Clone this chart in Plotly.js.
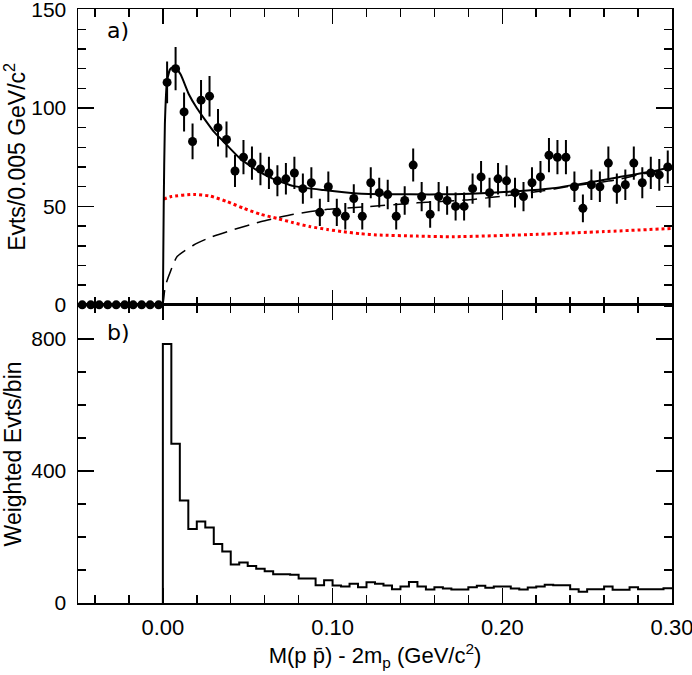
<!DOCTYPE html>
<html>
<head>
<meta charset="utf-8">
<script src="https://cdn.plot.ly/plotly-3.0.1.min.js"></script>
<style>
  body { margin: 0; background: #ffffff; }
  #grafico { width: 692px; height: 675px; }
</style>
</head>
<body>
<div id="grafico"></div>
<script>
// --- 1. DATOS ---
const anchoBin = 0.005;

// panel a) eventos por bin, 10 bins vacios por debajo del umbral y 60 por encima
const eventosVacios = [0, 0, 0, 0, 0, 0, 0, 0, 0, 0];
const eventos = [
  113, 120, 98, 83, 104, 106, 90, 84, 68, 75,
  72, 69, 67, 63, 64, 67, 59, 62, 47, 60,
  47, 45, 54, 45, 62, 57, 56, 45, 53, 71,
  55, 46, 55, 53, 50, 50, 59, 65, 57, 64,
  63, 57, 55, 62, 65, 76, 75, 75, 60, 49,
  61, 60, 72, 59, 61, 72, 62, 67, 66, 70
];
const errores = [
  10.6, 11.0, 9.9, 9.1, 10.2, 10.3, 9.5, 9.2, 8.2, 8.7,
  8.5, 8.3, 8.2, 7.9, 8.0, 8.2, 7.7, 7.9, 6.9, 7.7,
  6.9, 6.7, 7.3, 6.7, 7.9, 7.5, 7.5, 6.7, 7.3, 8.4,
  7.4, 6.8, 7.4, 7.3, 7.1, 7.1, 7.7, 8.1, 7.5, 8.0,
  7.9, 7.5, 7.4, 7.9, 8.1, 8.7, 8.7, 8.7, 7.7, 7.0,
  7.8, 7.7, 8.5, 7.7, 7.8, 8.5, 7.9, 8.2, 8.1, 8.4
];

// curva del ajuste total (solida)
const ajusteX = [0, 0.0005, 0.0012, 0.0025, 0.0045, 0.007, 0.0105, 0.0153, 0.02, 0.0251,
  0.03, 0.035, 0.0447, 0.0546, 0.0644, 0.0772, 0.0948, 0.1145, 0.1341, 0.157,
  0.1714, 0.191, 0.2107, 0.2284, 0.248, 0.2677, 0.2873, 0.30];
const ajusteY = [0, 50, 92, 114, 120, 121, 117, 107, 100, 93.7,
  88, 83.6, 75, 68.8, 64.2, 60.3, 58.3, 56.6, 56.2, 56.1,
  56.2, 56.8, 57.8, 59.1, 61.7, 64.7, 67.6, 70.1];

// fondo de espacio fasico (discontinua)
const fondoX = [0, 0.0005, 0.001, 0.002, 0.0045, 0.0084, 0.0182, 0.028, 0.038, 0.0575,
  0.077, 0.097, 0.12, 0.15, 0.178, 0.194, 0.224, 0.238, 0.266, 0.284, 0.30];
const fondoY = [0, 3, 7, 11, 17, 24.5, 30.4, 34.3, 37.2, 42.2,
  46, 48.5, 49.8, 51.8, 53.2, 54.6, 57.9, 60, 63.3, 66.7, 69];

// curva punteada roja
const rojaX = [0.0005, 0.005, 0.0182, 0.028, 0.0379, 0.0477, 0.0575, 0.0673, 0.077, 0.0869,
  0.0968, 0.1066, 0.1164, 0.126, 0.15, 0.1714, 0.2205, 0.26, 0.30];
const rojaY = [53.7, 55, 56.1, 55.2, 52.4, 49, 46, 43.9, 41.7, 39.7,
  38.3, 37.1, 36.1, 35.5, 34.9, 34.6, 35.8, 37.2, 38.8];

// panel b) eventos pesados por bin (60 bins desde 0)
const pesados = [
  785, 483, 311, 224, 247, 229, 179, 156, 117, 123,
  112, 104, 96, 87, 87, 86, 74, 74, 54, 69,
  53, 50, 58, 48, 63, 58, 53, 42, 50, 64,
  50, 41, 48, 44, 41, 41, 48, 52, 46, 50,
  50, 44, 41, 47, 50, 55, 54, 54, 42, 34,
  42, 42, 50, 40, 40, 48, 42, 42, 42, 45
];

// --- 2. CONSTRUCCION DE TRAZAS ---
const centrosVacios = eventosVacios.map((_, i) => -anchoBin * eventosVacios.length + anchoBin * (i + 0.5));
const centros = eventos.map((_, i) => anchoBin * (i + 0.5));

const trazoPuntos = {
  x: centrosVacios.concat(centros),
  y: eventosVacios.concat(eventos),
  error_y: { type: 'data', array: eventosVacios.concat(errores), width: 0, thickness: 2, color: '#000' },
  mode: 'markers', type: 'scatter',
  marker: { color: '#000', size: 9 },
  cliponaxis: false,
  xaxis: 'x2', yaxis: 'y2'
};

const trazoFondo = {
  x: fondoX, y: fondoY, mode: 'lines', type: 'scatter',
  line: { color: '#000', width: 1.5, dash: '15px,8px', shape: 'spline', smoothing: 0.6 },
  xaxis: 'x2', yaxis: 'y2'
};

const trazoRoja = {
  x: rojaX, y: rojaY, mode: 'lines', type: 'scatter',
  line: { color: '#ff0000', width: 3, dash: 'dot', shape: 'spline', smoothing: 0.6 },
  xaxis: 'x2', yaxis: 'y2'
};

const trazoAjuste = {
  x: ajusteX, y: ajusteY, mode: 'lines', type: 'scatter',
  line: { color: '#000', width: 2, shape: 'spline', smoothing: 0.5 },
  xaxis: 'x2', yaxis: 'y2'
};

// histograma escalonado: borde izquierdo de cada bin, cerrado en 0.30
let bordesX = [0], valoresH = [0];
for (let i = 0; i < pesados.length; i++) {
  bordesX.push(anchoBin * i);
  valoresH.push(pesados[i]);
}
bordesX.push(anchoBin * pesados.length);
valoresH.push(pesados[pesados.length - 1]);

const trazoHisto = {
  x: bordesX, y: valoresH, mode: 'lines', type: 'scatter',
  line: { color: '#000', width: 2, shape: 'hv' },
  xaxis: 'x', yaxis: 'y'
};

// --- 3. EJES Y LAYOUT ---
const familia = 'Liberation Sans, Arial, sans-serif';
const fuenteX = { family: familia, size: 22, color: '#000' };
const fuenteY = { family: familia, size: 21, color: '#000' };
const fuenteTituloY = { family: familia, size: 23, color: '#000' };

function ejeBase(extra) {
  return Object.assign({
    showline: true, linecolor: '#000', linewidth: 1.5, mirror: 'ticks',
    ticks: 'inside', ticklen: 15, tickwidth: 1.5, tickcolor: '#000',
    showgrid: false, zeroline: false, ticklabelstandoff: 6, ticklabeloverflow: 'allow'
  }, extra);
}

const layout = {
  width: 692, height: 675,
  margin: { l: 78, r: 20, t: 9, b: 72 },
  paper_bgcolor: '#ffffff', plot_bgcolor: '#ffffff',
  showlegend: false,
  font: fuenteY,
  xaxis: ejeBase({
    anchor: 'y', range: [-0.05, 0.30], tick0: 0, dtick: 0.1, tickformat: '.2f', tickfont: fuenteX,
    ticklabelstandoff: 4,
    minor: { tick0: 0, dtick: 0.02, ticks: 'inside', ticklen: 8, tickwidth: 1.5, tickcolor: '#000' },
    title: { text: 'M(p p\u0304) - 2m<sub>p</sub> (GeV/c<sup>2</sup>)', font: fuenteX, standoff: 4 }
  }),
  xaxis2: ejeBase({
    anchor: 'y2', matches: 'x', range: [-0.05, 0.30], tick0: 0, dtick: 0.1, showticklabels: false,
    minor: { tick0: 0, dtick: 0.02, ticks: 'inside', ticklen: 8, tickwidth: 1.5, tickcolor: '#000' }
  }),
  yaxis: ejeBase({
    domain: [0, 0.502], range: [0, 904], tick0: 0, dtick: 400, ticklen: 16, tickfont: fuenteY,
    minor: { tick0: 0, dtick: 100, ticks: 'inside', ticklen: 8, tickwidth: 1.5, tickcolor: '#000' },
    title: { text: 'Weighted Evts/bin', font: fuenteTituloY, standoff: 6 }
  }),
  yaxis2: ejeBase({
    domain: [0.502, 1], anchor: 'x2', range: [0, 150.3], tick0: 0, dtick: 50, ticklen: 16, tickfont: fuenteY,
    minor: { tick0: 0, dtick: 10, ticks: 'inside', ticklen: 8, tickwidth: 1.5, tickcolor: '#000' },
    title: { text: 'Evts/0.005 GeV/c<sup>2</sup>', font: fuenteTituloY, standoff: 6 }
  }),
  annotations: [
    { text: 'a)', xref: 'paper', yref: 'paper', x: 0.045, y: 0.963, xanchor: 'left', yanchor: 'middle',
      showarrow: false, font: { family: 'DejaVu Sans', size: 22, color: '#000' } },
    { text: 'b)', xref: 'paper', yref: 'paper', x: 0.045, y: 0.455, xanchor: 'left', yanchor: 'middle',
      showarrow: false, font: { family: 'DejaVu Sans', size: 22, color: '#000' } }
  ]
};

Plotly.newPlot('grafico', [trazoHisto, trazoRoja, trazoFondo, trazoAjuste, trazoPuntos], layout, { staticPlot: true });
</script>
</body>
</html>
